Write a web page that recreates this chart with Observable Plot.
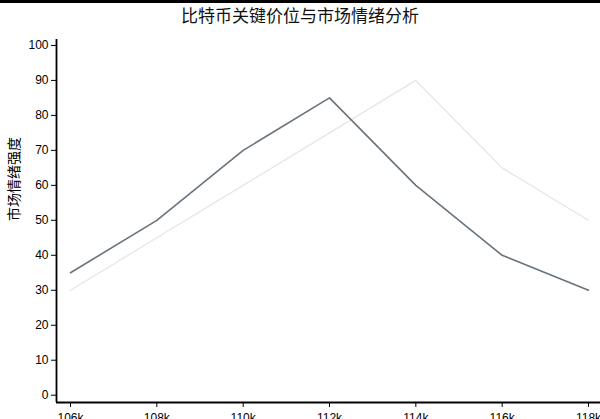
<!DOCTYPE html>
<html>
<head>
<meta charset="utf-8">
<script src="https://cdn.jsdelivr.net/npm/d3@7"></script>
<script src="https://cdn.jsdelivr.net/npm/@observablehq/plot@0.6"></script>
<style>
  html, body { margin: 0; padding: 0; background: #fff; overflow: hidden; width: 600px; height: 419px; }
  #band { height: 3px; background: #000; }
  #title { height: 27px; line-height: 27px; text-align: center; font-size: 17px; color: #111;
           font-family: "Liberation Sans", "Noto Sans CJK SC", sans-serif; }
  #chart svg { display: block; }
</style>
</head>
<body>
<div id="band"></div>
<div id="title">比特币关键价位与市场情绪分析</div>
<div id="chart"></div>
<script>
const titleText = "比特币关键价位与市场情绪分析";
const yLabel = "市场情绪强度";
const priceLevels = [106, 108, 110, 112, 114, 116, 118]; // 单位：千美元
const sentimentA = [35, 50, 70, 85, 60, 40, 30];
const sentimentB = [30, 45, 60, 75, 90, 65, 50];
const yTicks = [0, 10, 20, 30, 40, 50, 60, 70, 80, 90, 100];

const rowsA = priceLevels.map((p, i) => ({price: p, value: sentimentA[i]}));
const rowsB = priceLevels.map((p, i) => ({price: p, value: sentimentB[i]}));

const xDomain = [105.676, 118.278];
const yDomain = [-2.09, 101.7];

const chart = Plot.plot({
  width: 600,
  height: 400,
  marginLeft: 56,
  marginRight: 0,
  marginTop: 9,
  marginBottom: 28,
  style: {fontFamily: "'Liberation Sans', 'Noto Sans CJK SC', sans-serif", fontSize: "12px", color: "#000", background: "#fff"},
  x: {domain: xDomain},
  y: {domain: yDomain},
  marks: [
    Plot.line(rowsB, {x: "price", y: "value", stroke: "#e6e6e6", strokeWidth: 1.3}),
    Plot.line(rowsA, {x: "price", y: "value", stroke: "#68737d", strokeWidth: 1.6}),
    Plot.ruleX([xDomain[0]], {stroke: "#000", strokeWidth: 1.8}),
    Plot.ruleY([yDomain[0]], {stroke: "#000", strokeWidth: 1.8}),
    Plot.axisY({ticks: yTicks, tickSize: 5, tickPadding: 3, label: null, stroke: "#000", fill: "#000", fontSize: 12}),
    Plot.axisX({ticks: priceLevels, tickFormat: d => d + "k", tickSize: 5, tickPadding: 6, label: null, stroke: "#000", fill: "#000", fontSize: 12}),
    Plot.text([yLabel], {frameAnchor: "left", rotate: -90, dx: -42, fontSize: 14, fill: "#000", fontFamily: "'Noto Sans CJK SC', sans-serif"})
  ]
});
document.getElementById("chart").appendChild(chart);
</script>
</body>
</html>
